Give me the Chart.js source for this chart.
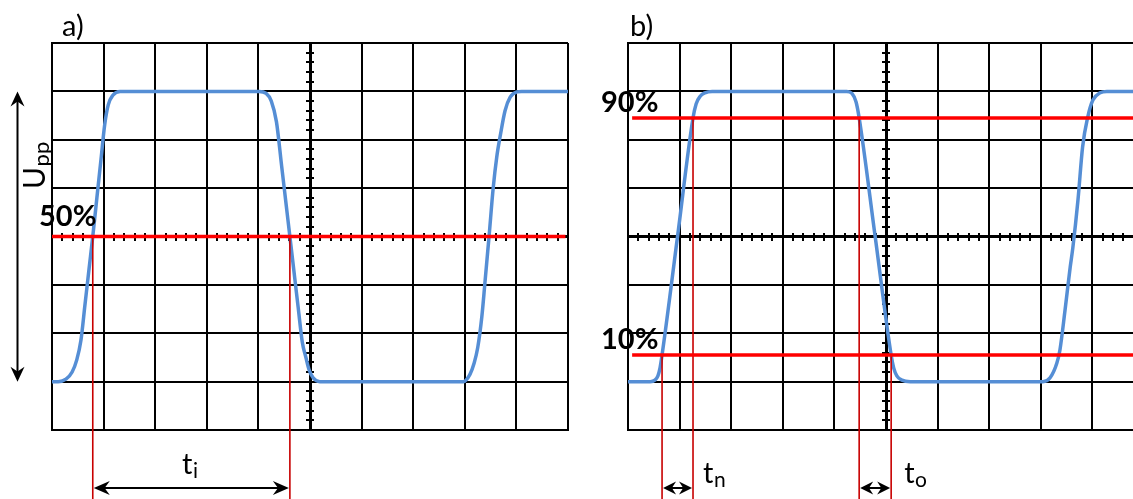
<!DOCTYPE html>
<html><head><meta charset="utf-8">
<script src="https://cdn.jsdelivr.net/npm/chart.js@4.4.0/dist/chart.umd.min.js"></script>
<style>
html,body{margin:0;padding:0;background:#fff;overflow:hidden;width:1133px;height:499px;}
canvas{position:absolute;top:0;}
#ca{left:0;} #cb{left:576px;}
</style></head><body>
<canvas id="ca" width="590" height="499"></canvas>
<canvas id="cb" width="590" height="499"></canvas>
<script>
// ---- data (x in horizontal divisions, y in vertical divisions) ----
const xTicks = [0,1,2,3,4,5,6,7,8,9,10];
const yTicks = [0,1,2,3,4,5,6,7,8];
const centerX = 5, centerY = 4, minorStep = 0.2;

// panel a)
const waveAX = [0,0.12,0.27,0.39,0.48,0.56,0.64,0.72,0.79,0.87,0.95,1.02,1.09,1.18,1.32,
  4.01,4.15,4.25,4.35,4.45,4.53,4.61,4.69,4.77,4.85,4.92,4.98,5.06,5.19,
  7.97,8.10,8.18,8.25,8.33,8.39,8.47,8.55,8.62,8.69,8.78,8.88,9.01,9.1,10];
const waveAY = [1.0,1.0,1.05,1.2,1.45,1.85,2.6,3.35,4.0,4.8,5.6,6.3,6.72,6.92,7.0,
  7.0,6.96,6.8,6.37,5.46,4.73,4.0,3.27,2.54,1.82,1.5,1.25,1.08,1.0,
  1.0,1.15,1.38,1.7,2.34,3.04,4.0,5.0,5.65,6.1,6.6,6.88,6.99,7.0,7.0];
const levelsA = [4];
const levelLabelsA = ['50%'];
const levelStartA = 0, levelEndA = 9.95;
const crossAX = [0.79, 4.61];
const crossAY = [4, 4];

// panel b)
const waveBX = [0,0.43,0.52,0.58,0.62,0.66,0.96,1.26,1.32,1.40,1.49,1.63,
  4.24,4.34,4.42,4.48,4.79,5.10,5.15,5.21,5.31,5.47,
  8.04,8.18,8.31,8.37,8.47,8.57,8.62,8.72,8.81,8.91,9.01,9.15,9.28,10];
const waveBY = [1.0,1.0,1.03,1.12,1.28,1.55,4.0,6.45,6.74,6.90,6.97,7.0,
  7.0,6.96,6.78,6.45,4.0,1.55,1.28,1.12,1.03,1.0,
  1.0,1.08,1.38,1.65,2.48,3.37,3.76,4.75,5.85,6.47,6.82,6.97,7.0,7.0];
const levelsB = [6.45, 1.55];
const levelLabelsB = ['90%', '10%'];
const levelStartB = 0.08, levelEndB = 10;
const crossBX = [0.66, 1.26, 4.48, 5.10];
const crossBY = [1.55, 6.45, 6.45, 1.55];

const panelTitles = ['a)', 'b)'];
const amplitudeLabel = ['U', 'pp'];
const timeLabelsA = [['t', 'i']];
const timeLabelsB = [['t', 'n'], ['t', 'o']];
const lowLevel = 1, highLevel = 7;

// ---- styling ----
const FONT = 'Lato, "Open Sans", sans-serif';
const BLUE = '#558ED5', RED = '#FF0000', DRED = '#C80000';
const LINE_BOTTOM = -1.8;

function pts(xs, ys){ return xs.map((x,i)=>({x:x, y:ys[i]})); }

function head(ctx, tx, ty, dx, dy, len, hw){
  const bx = tx - dx*len, by = ty - dy*len;
  const nx = -dy, ny = dx;
  const mx = tx - dx*len*0.68, my = ty - dy*len*0.68;
  ctx.beginPath();
  ctx.moveTo(tx, ty);
  ctx.lineTo(bx + nx*hw, by + ny*hw);
  ctx.lineTo(mx, my);
  ctx.lineTo(bx - nx*hw, by - ny*hw);
  ctx.closePath();
  ctx.fill();
}
function dblArrow(ctx, x1, y1, x2, y2, len, hw, lw){
  const L = Math.hypot(x2-x1, y2-y1), dx = (x2-x1)/L, dy = (y2-y1)/L;
  ctx.save();
  ctx.strokeStyle = '#000'; ctx.fillStyle = '#000'; ctx.lineWidth = lw;
  ctx.beginPath();
  ctx.moveTo(x1 + dx*len*0.6, y1 + dy*len*0.6);
  ctx.lineTo(x2 - dx*len*0.6, y2 - dy*len*0.6);
  ctx.stroke();
  head(ctx, x2, y2, dx, dy, len, hw);
  head(ctx, x1, y1, -dx, -dy, len, hw);
  ctx.restore();
}
function subText(ctx, main, sub, x, y, mainSize, subSize, drop){
  ctx.font = mainSize + 'px ' + FONT;
  ctx.textAlign = 'left'; ctx.textBaseline = 'alphabetic';
  ctx.fillText(main, x, y);
  const w = ctx.measureText(main).width;
  ctx.font = subSize + 'px ' + FONT;
  ctx.fillText(sub, x + w + 0.5, y + drop);
  return w + ctx.measureText(sub).width;
}

function minorTicks(chart){
  const {ctx, scales:{x, y}} = chart;
  const cx = Math.round(x.getPixelForValue(centerX)), cy = Math.round(y.getPixelForValue(centerY));
  ctx.save(); ctx.strokeStyle = '#000'; ctx.lineWidth = 2;
  for (let v = x.min; v <= x.max + 1e-6; v += minorStep){
    const p = Math.round(x.getPixelForValue(v));
    ctx.beginPath(); ctx.moveTo(p, cy - 4); ctx.lineTo(p, cy + 4); ctx.stroke();
  }
  for (let v = y.min; v <= y.max + 1e-6; v += minorStep){
    const p = Math.round(y.getPixelForValue(v));
    ctx.beginPath(); ctx.moveTo(cx - 4, p); ctx.lineTo(cx + 4, p); ctx.stroke();
  }
  ctx.restore();
}

const decorA = {
  id: 'decorA',
  beforeDatasetsDraw: minorTicks,
  afterDraw(chart){
    const {ctx, chartArea:a, scales:{x, y}} = chart;
    ctx.save();
    ctx.fillStyle = '#000';
    ctx.font = '29px ' + FONT; ctx.textAlign = 'left'; ctx.textBaseline = 'alphabetic';
    ctx.fillText(panelTitles[0], a.left + 10, 36);
    ctx.font = 'bold 29px ' + FONT;
    levelsA.forEach((l, i) => ctx.fillText(levelLabelsA[i], a.left - 13, y.getPixelForValue(l) - 11));
    // amplitude arrow + label
    const ax = a.left - 34.5;
    dblArrow(ctx, ax, y.getPixelForValue(highLevel), ax, y.getPixelForValue(lowLevel), 15, 7, 2);
    ctx.save();
    ctx.translate(45, 189); ctx.rotate(-Math.PI/2);
    subText(ctx, amplitudeLabel[0], amplitudeLabel[1], 0, 0, 30, 22, 4);
    ctx.restore();
    // time arrow
    const ay = a.bottom + 58;
    const x1 = x.getPixelForValue(crossAX[0]), x2 = x.getPixelForValue(crossAX[1]);
    dblArrow(ctx, x1 + 1, ay, x2 - 1, ay, 16, 7, 2);
    ctx.font = '29px ' + FONT;
    const wt = ctx.measureText('t').width;
    subText(ctx, timeLabelsA[0][0], timeLabelsA[0][1], (x1 + x2)/2 - wt/2 - 4, a.bottom + 44, 29, 21, 4);
    ctx.restore();
  }
};

const decorB = {
  id: 'decorB',
  beforeDatasetsDraw: minorTicks,
  afterDraw(chart){
    const {ctx, chartArea:a, scales:{x, y}} = chart;
    ctx.save();
    ctx.fillStyle = '#000';
    ctx.font = '29px ' + FONT; ctx.textAlign = 'left'; ctx.textBaseline = 'alphabetic';
    ctx.fillText(panelTitles[1], a.left + 2, 36);
    ctx.font = 'bold 29px ' + FONT;
    levelsB.forEach((l, i) => ctx.fillText(levelLabelsB[i], a.left - 27, y.getPixelForValue(l) - 6));
    const ay = a.bottom + 58;
    const offs = [10, 13];
    timeLabelsB.forEach((lab, k) => {
      const x1 = x.getPixelForValue(crossBX[2*k]), x2 = x.getPixelForValue(crossBX[2*k+1]);
      dblArrow(ctx, x1 + 1, ay, x2 - 1, ay, 13, 6.5, 2);
      subText(ctx, lab[0], lab[1], x2 + offs[k], a.bottom + 53, 29, 21, 4);
    });
    ctx.restore();
  }
};

function scaleCfg(min, max, ticks, center){
  return {
    type: 'linear', min: min, max: max,
    afterBuildTicks: s => { s.ticks = ticks.map(v => ({value: v})); },
    ticks: {display: false},
    grid: {color: '#000', lineWidth: c => (c.tick && c.tick.value === center) ? 3 : 2, drawTicks: false},
    border: {color: '#000', width: 2}
  };
}

function makeChart(id, datasets, decor){
  return new Chart(document.getElementById(id), {
    type: 'line',
    data: {datasets: datasets},
    options: {
      responsive: false, animation: false, devicePixelRatio: 1,
      layout: {padding: {left: 52, right: 22, top: 43, bottom: 69}},
      plugins: {legend: {display: false}, tooltip: {enabled: false}},
      scales: {x: scaleCfg(0, 10, xTicks, centerX), y: scaleCfg(0, 8, yTicks, centerY)},
      elements: {point: {radius: 0, hoverRadius: 0}}
    },
    plugins: [decor]
  });
}

function levelSets(levels, x0, x1){
  return levels.map(l => ({data: [{x: x0, y: l}, {x: x1, y: l}], borderColor: RED, borderWidth: 3.5, order: 0}));
}
function crossSets(xs, ys){
  return xs.map((cx, i) => ({data: [{x: cx, y: ys[i]}, {x: cx, y: LINE_BOTTOM}], borderColor: DRED, borderWidth: 1.6, clip: false, order: 1}));
}
function waveSet(xs, ys){
  return {data: pts(xs, ys), borderColor: BLUE, borderWidth: 3.5, cubicInterpolationMode: 'monotone', order: 2};
}

makeChart('ca', [...levelSets(levelsA, levelStartA, levelEndA), ...crossSets(crossAX, crossAY), waveSet(waveAX, waveAY)], decorA);
makeChart('cb', [...levelSets(levelsB, levelStartB, levelEndB), ...crossSets(crossBX, crossBY), waveSet(waveBX, waveBY)], decorB);
</script>
</body></html>
